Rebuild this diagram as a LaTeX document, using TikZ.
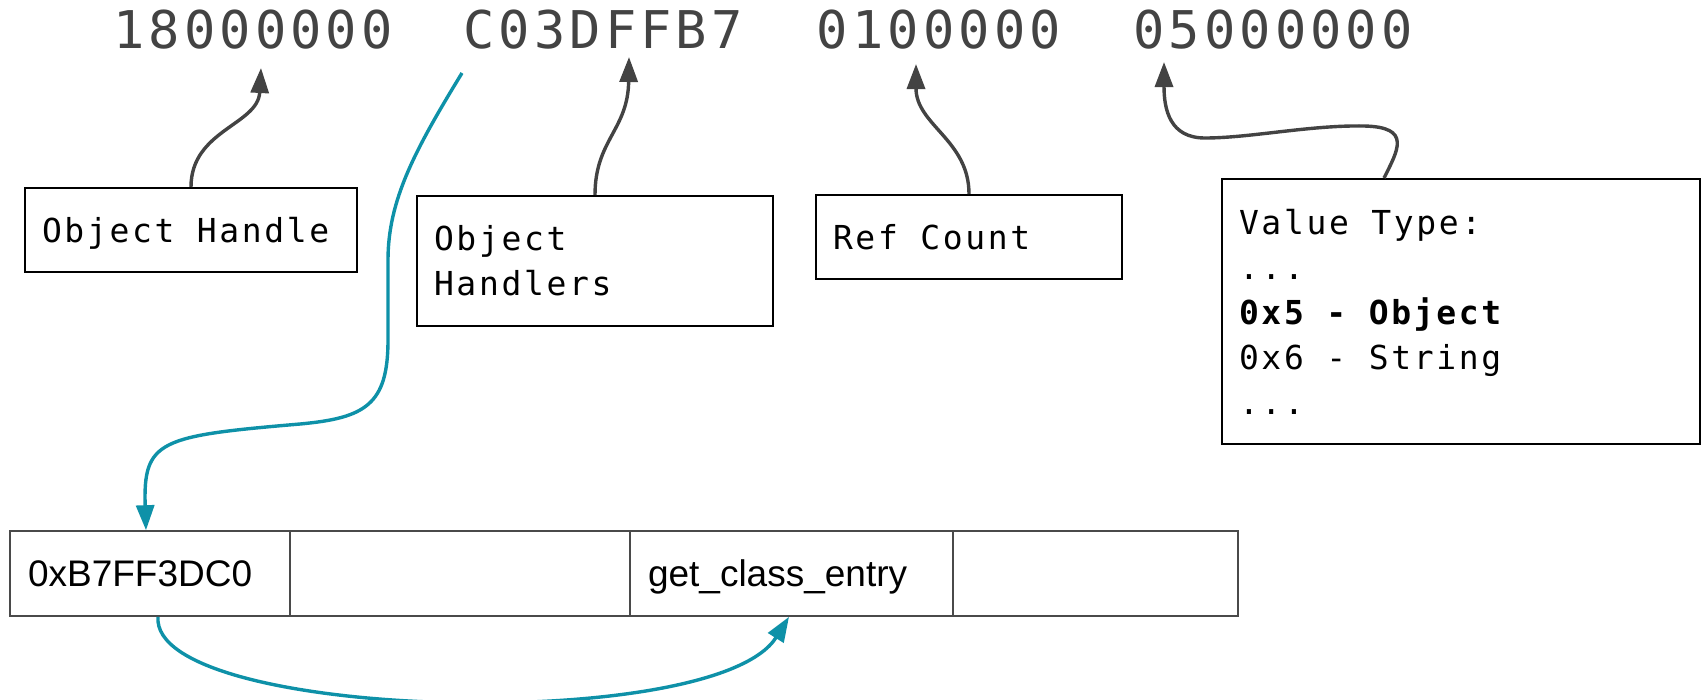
\documentclass[tikz,border=0pt]{standalone}
\usepackage{fontspec}
\setmainfont{Liberation Sans}
\newfontfamily\monofnt[LetterSpace=8]{DejaVu Sans Mono}
\newcommand{\msp}{\hspace{0.682em}}
\usetikzlibrary{arrows.meta}
\definecolor{hexgray}{HTML}{434343}
\definecolor{linkblue}{HTML}{0E91A8}
\definecolor{tablegray}{HTML}{4A4A4A}
\begin{document}
\begin{tikzpicture}[x=1pt,y=-1pt,
  hexlbl/.style={font=\monofnt\fontsize{52}{60}\selectfont, text=hexgray, inner sep=0pt, anchor=base},
  infobox/.style={draw=black, line width=2pt, font=\monofnt\fontsize{33}{45}\selectfont, align=left, inner xsep=17pt, inner ysep=0pt},
  cell/.style={draw=tablegray, line width=1.6pt, minimum height=85pt, font=\fontsize{37}{45}\selectfont, align=left, inner xsep=18pt, inner ysep=0pt, text height=26.5pt, text depth=0pt},
  grayarrow/.style={draw=hexgray, line width=3.4pt, -{Triangle[length=25pt,width=18pt]}},
  bluearrow/.style={draw=linkblue, line width=3.4pt, -{Triangle[length=25pt,width=18pt]}},
]
\useasboundingbox[fill=white] (0,0) rectangle (1707,699);

% hex values
\node[hexlbl] (h1) at (253,48) {18000000};
\node[hexlbl] (h2) at (603,48) {C03DFFB7};
\node[hexlbl] (h3) at (939,48) {0100000};
\node[hexlbl] (h4) at (1273,48) {05000000};

% info boxes
\node[infobox, text width=298pt, minimum height=84pt, text height=24pt, text depth=0pt] (oh) at (191,230) {Object\msp Handle};
\node[infobox, text width=322pt, minimum height=130pt] (ohs) at (595,261) {Object\\Handlers};
\node[infobox, text width=272pt, minimum height=84pt, text height=24pt, text depth=0pt] (rc) at (969,237) {Ref\msp Count};
\node[infobox, text width=444pt, minimum height=265pt] (vt) at (1461,311.5) {Value\msp Type:\\...\\\textbf{0x5\msp-\msp Object}\\0x6\msp-\msp String\\...};

% table
\node[cell, text width=244pt, minimum width=280pt] (c1) at (150,573.5) {0xB7FF3DC0};
\node[cell, text width=304pt, minimum width=340pt] (c2) at (460,573.5) {};
\node[cell, text width=287pt, minimum width=323pt] (c3) at (791.5,573.5) {get\_class\_entry};
\node[cell, text width=249pt, minimum width=285pt] (c4) at (1095.5,573.5) {};

% arrow end points
\coordinate (t1) at (261,68);
\coordinate (t2) at (629,57);
\coordinate (t3) at (916,64);
\coordinate (t4) at (1164,62);
\coordinate (s5) at (462,73);

% gray arrows
\draw[grayarrow] (oh.north) .. controls (191,130) and (258,125) .. (t1);
\draw[grayarrow] (ohs.north) .. controls (595,140) and (628,130) .. (t2);
\draw[grayarrow] (rc.north) .. controls (969,140) and (916,125) .. (t3);
\draw[grayarrow] ([xshift=-77pt]vt.north) .. controls (1398,150) and (1412,127) .. (1364,126)
  .. controls (1310,125) and (1250,138) .. (1205,138)
  .. controls (1170,138) and (1164,110) .. (t4);

% blue arrows
\draw[bluearrow] (s5) .. controls (415,150) and (388,200) .. (388,260) -- (388,340)
  .. controls (388,405) and (365,418) .. (300,424)
  .. controls (160,436) and (143,440) .. ([xshift=-4pt]c1.north);
\draw[bluearrow] ([xshift=8pt]c1.south) .. controls (150,720) and (715,735) .. ([xshift=-2.5pt]c3.south);
\end{tikzpicture}
\end{document}
